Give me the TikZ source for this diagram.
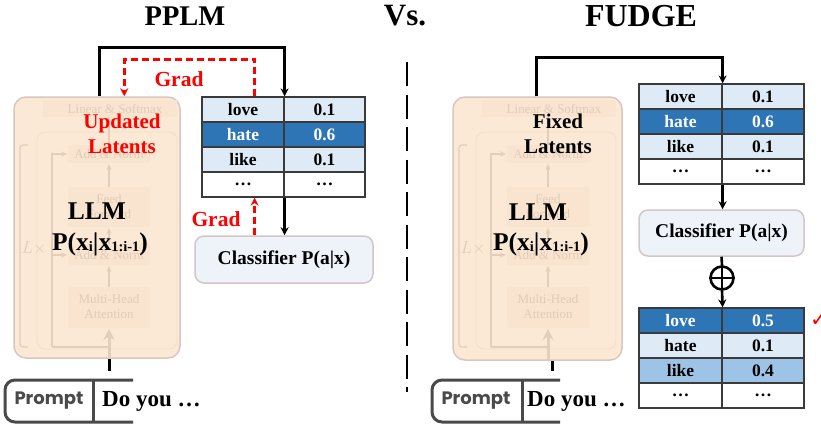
\documentclass[tikz,border=0pt]{standalone}
\usepackage{fontspec}
\setmainfont{Liberation Serif}
\newfontfamily\promptfont{Poppins}
\newfontfamily\symfont{DejaVu Sans}
\usetikzlibrary{arrows.meta}
\definecolor{darkblue}{HTML}{2E75B6}
\definecolor{lightblue}{HTML}{DEEBF7}
\definecolor{midblue}{HTML}{9DC3E6}
\definecolor{tabline}{HTML}{3A3A3A}
\definecolor{llmfill}{HTML}{FBE9D5}
\definecolor{llmdraw}{HTML}{D9C6C0}
\definecolor{faintfill}{HTML}{F8E4CF}
\definecolor{fainttxt}{HTML}{DFCCBA}
\definecolor{faintln}{HTML}{E2CEB9}
\definecolor{faintedge}{HTML}{F1DFCC}
\definecolor{clsfill}{HTML}{EEF3FA}
\definecolor{clsdraw}{HTML}{D3C6C6}
\definecolor{promptgrey}{HTML}{4A4A4A}
\definecolor{gradred}{HTML}{FF0000}
\tikzset{
  faintllm/.pic={
    \fill[faintfill] (29,3) rectangle (163,20);
    \node[fainttext] (-ls) at (101,12) {Linear \& Softmax};
    \draw[faintedge, line width=0.8pt, rounded corners=8pt] (23,35) rectangle (163,252);
    \draw[faintln, line width=1.2pt, rounded corners=3pt] (14,48) -- (6,48) -- (6,250) -- (14,250);
    \fill[faintfill, rounded corners=3pt] (54,48) rectangle (136,66);
    \fill[faintfill, rounded corners=3pt] (54,90) rectangle (136,130);
    \fill[faintfill, rounded corners=3pt] (54,147) rectangle (136,168);
    \fill[faintfill, rounded corners=3pt] (54,190) rectangle (136,231);
    \node[fainttext] (-an1) at (95,57) {Add \& Norm};
    \node[fainttext, align=center] (-ff) at (95,110) {Feed\\Forward};
    \node[fainttext] (-an2) at (95,158) {Add \& Norm};
    \node[fainttext, align=center] (-mha) at (95,210) {Multi-Head\\Attention};
    \node[fainttext, font=\fontsize{17}{17}\selectfont] (-lx) at (20,151) {$L\times$};
    \draw[faintln, line width=1.2pt] (95,48) -- (95,20);
    \draw[faintln, line width=1.2pt, -{Stealth[length=6pt,width=5pt]}] (95,90) -- (95,67);
    \draw[faintln, line width=1.2pt, -{Stealth[length=6pt,width=5pt]}] (95,147) -- (95,131);
    \draw[faintln, line width=1.2pt, -{Stealth[length=6pt,width=5pt]}] (95,190) -- (95,169);
    \draw[faintln, line width=1.2pt, -{Stealth[length=6pt,width=5pt]}] (38,250) -- (38,57) -- (53,57);
    \draw[faintln, line width=1.2pt, -{Stealth[length=6pt,width=5pt]}] (38,158) -- (53,158);
    \draw[faintln, line width=1.2pt] (38,250) -- (95,250);
    \draw[faintln, line width=3pt, -{Stealth[length=11pt,width=11pt]}] (95,263) -- (95,232);
  },
  fainttext/.style={text=fainttxt, inner sep=0pt, align=center, font=\fontsize{13}{15}\selectfont},
  llmbox/.style={draw=llmdraw, fill=llmfill, line width=1.5pt, rounded corners=12pt, inner sep=0pt},
  clsbox/.style={draw=clsdraw, fill=clsfill, line width=1.5pt, rounded corners=9pt, inner sep=0pt, font=\fontsize{19.5}{22}\selectfont\bfseries},
  cell/.style={draw=tabline, line width=1.2pt, minimum height=25pt, inner sep=0pt, fill=lightblue, font=\fontsize{17.5}{20}\selectfont\bfseries},
  cola/.style={cell, minimum width=82pt},
  colb/.style={cell, minimum width=81pt},
  hot/.style={fill=darkblue, text=white},
  plainrow/.style={fill=white},
  midrow/.style={fill=midblue},
  conn/.style={draw=black, line width=2.6pt},
  arr/.style={conn, -{Stealth[length=8pt,width=8pt]}},
  reddash/.style={draw=gradred, line width=2.7pt, dash pattern=on 7pt off 4pt, -{Stealth[length=8pt,width=8pt]}},
  gradlbl/.style={text=gradred, inner sep=0pt, font=\fontsize{21.5}{24}\selectfont\bfseries},
  latlbl/.style={inner sep=0pt, align=center, font=\fontsize{21}{25}\selectfont\bfseries},
  bigtxt/.style={inner sep=0pt, font=\fontsize{25.5}{28}\selectfont\bfseries},
  titletxt/.style={inner sep=0pt, anchor=base, font=\fontsize{32}{36}\selectfont\bfseries},
  promptbr/.style={draw=promptgrey, line width=3pt, rounded corners=10pt},
  prompttxt/.style={inner sep=0pt, text=promptgrey, font=\promptfont\bfseries\fontsize{18}{20}\selectfont},
  dotxt/.style={inner sep=0pt, anchor=west, font=\fontsize{23}{26}\selectfont\bfseries},
}
\newcommand{\condprob}{P(x\raisebox{-1.5pt}{\fontsize{14.5}{15}\selectfont i}|x\raisebox{-1.5pt}{\fontsize{14.5}{15}\selectfont 1:i-1})}
\begin{document}
\begin{tikzpicture}[x=1pt,y=-1pt]
\useasboundingbox (0,0) rectangle (821,428);

% titles
\node[titletxt, font=\fontsize{28.5}{34}\selectfont\bfseries] (tpplm) at (185,26) {PPLM};
\node[titletxt, font=\fontsize{31}{36}\selectfont\bfseries] (tvs) at (405,26) {Vs.};
\node[titletxt] (tfudge) at (641,27) {FUDGE};

% separator
\draw[line width=2.2pt, dash pattern=on 24pt off 8.5pt] (407,62) -- (407,392);

% ---------- LEFT (PPLM) ----------
\node[llmbox, minimum width=166pt, minimum height=261pt] (llmL) at (97,227.5) {};
\pic (fl) at (14,97) {faintllm};
\node[bigtxt] (llmtL) at (97,211.5) {LLM};
\node[bigtxt, anchor=base] (probL) at (100,250) {\condprob};
\node[latlbl, text=gradred] (updL) at (122,134) {Updated\\Latents};

% table
\node[cola] (tL11) at (243,109.5) {love};
\node[colb] (tL12) at (324.5,109.5) {0.1};
\node[cola, hot] (tL21) at (243,134.5) {hate};
\node[colb, hot] (tL22) at (324.5,134.5) {0.6};
\node[cola] (tL31) at (243,159.5) {like};
\node[colb] (tL32) at (324.5,159.5) {0.1};
\node[cola, plainrow] (tL41) at (243,184.5) {…};
\node[colb, plainrow] (tL42) at (324.5,184.5) {…};

\node[clsbox, minimum width=178pt, minimum height=47pt] (clsL) at (284,259.5) {Classifier P(a|x)};

\draw[arr] ([xshift=86pt]llmL.north west) -- ++(0,-49) -| (tL11.north east);
\draw[reddash] ([xshift=-30pt]tL11.north east) -- ++(0,-37) -| ([xshift=111pt]llmL.north west);
\node[gradlbl] (gradT) at (179,79) {Grad};
\draw[arr] (tL41.south east) -- (tL41.south east |- clsL.north);
\draw[reddash] ([xshift=-30pt]tL41.south east |- clsL.north) -- ([xshift=-30pt]tL41.south east);
\node[gradlbl] (gradB) at (216,219) {Grad};

% prompt
\draw[promptbr] (133,380) -- (5,380) -- (5,422) -- (133,422);
\draw[draw=promptgrey, line width=3pt] (93,380) -- (93,422);
\node[prompttxt] (prL) at (49,401) {Prompt};
\node[dotxt] (doL) at (102,401) {Do you …};
\coordinate (stubL) at (109,371);
\draw[line width=3pt] (stubL) -- (stubL |- llmL.south);

% ---------- RIGHT (FUDGE) ----------
\node[llmbox, minimum width=169pt, minimum height=263pt] (llmR) at (537.5,228.5) {};
\pic (fr) at (453,97) {faintllm};
\node[bigtxt] (llmtR) at (538,212) {LLM};
\node[bigtxt, anchor=base] (probR) at (541,250) {\condprob};
\node[latlbl] (fixR) at (558,134) {Fixed\\Latents};

\node[cola, minimum width=83pt] (tR11) at (680.5,96.5) {love};
\node[colb, minimum width=82pt] (tR12) at (763,96.5) {0.1};
\node[cola, minimum width=83pt, hot] (tR21) at (680.5,121.5) {hate};
\node[colb, minimum width=82pt, hot] (tR22) at (763,121.5) {0.6};
\node[cola, minimum width=83pt] (tR31) at (680.5,146.5) {like};
\node[colb, minimum width=82pt] (tR32) at (763,146.5) {0.1};
\node[cola, minimum width=83pt, plainrow] (tR41) at (680.5,171.5) {…};
\node[colb, minimum width=82pt, plainrow] (tR42) at (763,171.5) {…};

\node[clsbox, minimum width=165pt, minimum height=46pt] (clsR) at (721.5,233) {Classifier P(a|x)};

\node[draw=black, line width=2.6pt, circle, minimum size=23pt, inner sep=0pt] (op) at (722,278) {};
\draw[line width=2.6pt] (op.west) -- (op.east);
\draw[line width=2.6pt] (op.north) -- (op.south);

\node[cola, minimum width=83pt, hot] (tB11) at (680.5,320.5) {love};
\node[colb, minimum width=82pt, hot] (tB12) at (763,320.5) {0.5};
\node[cola, minimum width=83pt] (tB21) at (680.5,345.5) {hate};
\node[colb, minimum width=82pt] (tB22) at (763,345.5) {0.1};
\node[cola, minimum width=83pt, midrow] (tB31) at (680.5,370.5) {like};
\node[colb, minimum width=82pt, midrow] (tB32) at (763,370.5) {0.4};
\node[cola, minimum width=83pt, plainrow] (tB41) at (680.5,395.5) {…};
\node[colb, minimum width=82pt, plainrow] (tB42) at (763,395.5) {…};

\draw[arr] ([xshift=84pt]llmR.north west) -- ++(0,-39) -| (tR11.north east);
\draw[arr] (tR41.south east) -- (tR41.south east |- clsR.north);
\draw[conn] (clsR.south) -- (op.north);
\draw[arr] (op.south) -- (tB11.north east);

\node[text=gradred, inner sep=0pt, anchor=west, font=\symfont\bfseries\fontsize{21}{21}\selectfont] (chk) at (810,320) {✓};

\draw[promptbr] (560,380) -- (432,380) -- (432,422) -- (560,422);
\draw[draw=promptgrey, line width=3pt] (522,380) -- (522,422);
\node[prompttxt] (prR) at (476,401) {Prompt};
\node[dotxt] (doR) at (527,401) {Do you …};
\coordinate (stubR) at (552,371);
\draw[line width=3pt] (stubR) -- (stubR |- llmR.south);
\end{tikzpicture}
\end{document}
